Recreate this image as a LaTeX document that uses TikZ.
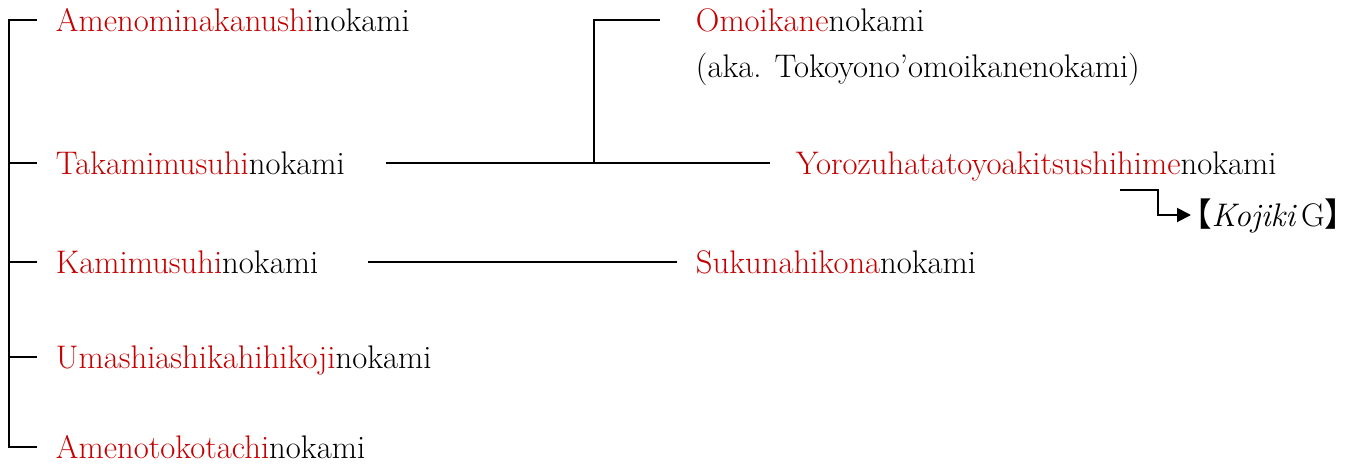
\documentclass[tikz,border=0pt]{standalone}
\usepackage{xcolor}
\usepackage{fontspec}
\newfontfamily\cjk{Noto Sans CJK JP}
\usetikzlibrary{calc, positioning, arrows.meta}
\definecolor{kred}{RGB}{196,0,0}
\newcommand{\kami}[1]{\textcolor{kred}{#1}nokami}

\begin{document}
\begin{tikzpicture}[x=0.02cm, y=-0.02cm,
  god/.style={anchor=west, inner sep=0pt, text height=13pt, text depth=0pt,
    font=\fontsize{18.6}{22}\selectfont},
  every path/.style={line width=1.1pt}]
  \useasboundingbox (0,0) rectangle (1357,471);

  % Label the first generation
  \node[god] (amen) at (55,20) {\kami{Amenominakanushi}};
  \node[god] (taka) at (55,163) {\kami{Takamimusuhi}};
  \node[god] (kami) at (55,262) {\kami{Kamimusuhi}};
  \node[god] (umas) at (55,357) {\kami{Umashiashikahihikoji}};
  \node[god] (atok) at (55,447) {\kami{Amenotokotachi}};

  % Label the children
  \node[god] (omoi) at (695,20) {\kami{Omoikane}};
  \node[god, below=12pt of omoi.south west, anchor=north west] (aka) {(aka. Tokoyono'omoikanenokami)};
  \node[god] (yoro) at (795,163) {\kami{Yorozuhatatoyoakitsushihime}};
  \node[god] (suku) at (695,262) {\kami{Sukunahikona}};
  \node[god] (koji) at (1196,215) {\makebox[0.45em][r]{\cjk 【}\textit{Kojiki}\kern2.5pt G\makebox[0.45em][l]{\cjk 】}};

  % Draw the left bracket
  \draw ([xshift=-0.36cm]amen.west) -- ([xshift=-0.92cm]amen.west)
    -- ([xshift=-0.92cm]atok.west) -- ([xshift=-0.36cm]atok.west);
  \foreach \n in {taka,kami,umas}
    \draw ([xshift=-0.36cm]\n.west) -- ++(-0.56cm,0);

  % Draw the lines to the children
  \coordinate (split) at (594,163);
  \draw ([xshift=0.8cm]taka.east) -- ([xshift=-0.5cm]yoro.west);
  \draw ([xshift=-0.7cm]omoi.west) -| (split);
  \draw ([xshift=0.98cm]kami.east) -- ([xshift=-0.36cm]suku.west);

  % Draw the arrow to the source
  \coordinate (kstart) at (1120,190);
  \draw[-{Triangle[length=0.28cm,width=0.28cm]}] (kstart) -| (1158,215) -- ([xshift=-0.1cm]koji.west);
\end{tikzpicture}
\end{document}
